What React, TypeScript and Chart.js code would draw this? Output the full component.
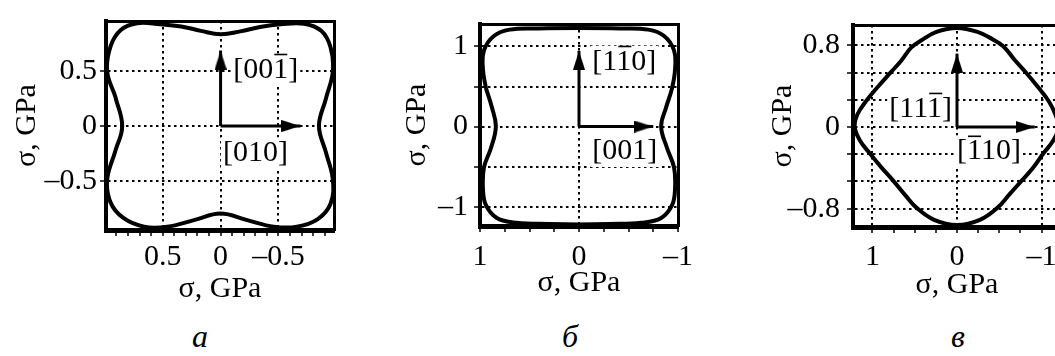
import React, { useEffect, useRef } from "react";
import { Chart, registerables } from "chart.js";

Chart.register(...registerables);

const FONT = "'Liberation Serif', 'Times New Roman', Times, serif";
const AXIS_TITLE = "σ, GPa";

// ---------- Panel а ----------
const A_CURVE_X = [0.91, 0.85, 0.91, 0.98, 0.95, 0.84, 0.66, 0.46, 0.23, 0, -0.23, -0.46, -0.66, -0.84, -0.95, -0.97, -0.91, -0.85, -0.91, -0.97, -0.95, -0.87, -0.72, -0.52, -0.34, -0.17, 0, 0.17, 0.34, 0.52, 0.72, 0.86, 0.95, 0.98, 0.91];
const A_CURVE_Y = [0.27, 0, -0.23, -0.49, -0.7, -0.84, -0.92, -0.92, -0.86, -0.8, -0.86, -0.92, -0.92, -0.85, -0.71, -0.49, -0.24, 0, 0.25, 0.5, 0.72, 0.87, 0.935, 0.93, 0.905, 0.865, 0.84, 0.87, 0.91, 0.93, 0.94, 0.88, 0.73, 0.5, 0.27];
const A_X_RANGE = [-0.98, 0.99];
const A_Y_RANGE = [-0.95, 0.96];
const A_X_TICKS = [0.9, 0.8, 0.7, 0.6, 0.5, 0.4, 0.3, 0.2, 0.1, 0, -0.1, -0.2, -0.3, -0.4, -0.5, -0.6, -0.7, -0.8, -0.9];
const A_X_GRID = [0.5, 0, -0.5];
const A_X_LABELS = [0.5, 0, -0.5];
const A_Y_TICKS = [0.5, 0, -0.5];
const A_Y_GRID = [0.5, 0, -0.5];
const A_Y_LABELS = [0.5, 0, -0.5];
const A_ARROW_X = [-0.69, 0];
const A_ARROW_Y = [0, 0.69];
const A_DIR_TEXT = ["[001]", "[010]"];
const A_DIR_BAR = [3, -1];
const A_DIR_X = [-0.11, -0.02];
const A_DIR_Y = [0.515, -0.25];

// ---------- Panel б ----------
const B_CURVE_X = [0.94, 0.88, 0.84, 0.89, 0.96, 0.97, 0.94, 0.83, 0.63, 0.3, 0, -0.3, -0.63, -0.83, -0.94, -0.97, -0.96, -0.89, -0.83, -0.88, -0.94, -0.97, -0.96, -0.86, -0.7, -0.41, 0, 0.41, 0.7, 0.86, 0.96, 0.97, 0.94];
const B_CURVE_Y = [0.48, 0.24, 0, -0.27, -0.51, -0.78, -0.98, -1.14, -1.2, -1.215, -1.22, -1.215, -1.2, -1.14, -0.98, -0.78, -0.51, -0.27, 0, 0.24, 0.48, 0.71, 0.95, 1.13, 1.21, 1.225, 1.23, 1.225, 1.21, 1.13, 0.95, 0.71, 0.48];
const B_X_RANGE = [-1, 1];
const B_Y_RANGE = [-1.24, 1.28];
const B_X_TICKS = [1, 0.75, 0.5, 0.25, 0, -0.25, -0.5, -0.75, -1];
const B_X_GRID = [0];
const B_X_LABELS = [1, 0, -1];
const B_Y_TICKS = [1, 0.5, 0, -0.5, -1];
const B_Y_GRID = [1, 0.5, 0, -0.5, -1];
const B_Y_LABELS = [1, 0, -1];
const B_ARROW_X = [-0.75, 0];
const B_ARROW_Y = [0, 0.945];
const B_DIR_TEXT = ["[110]", "[001]"];
const B_DIR_BAR = [2, -1];
const B_DIR_X = [-0.135, -0.135];
const B_DIR_Y = [0.81, -0.305];

// ---------- Panel в ----------
const C_CURVE_X = [0.79, 0.93, 1.07, 1.18, 1.21, 1.15, 1.03, 0.89, 0.75, 0.61, 0.48, 0.27, 0, -0.27, -0.48, -0.62, -0.76, -0.9, -1.02, -1.14, -1.2, -1.16, -1.08, -0.95, -0.82, -0.68, -0.55, -0.42, -0.25, 0, 0.25, 0.42, 0.54, 0.66, 0.79];
const C_CURVE_Y = [0.53, 0.4, 0.26, 0.12, 0, -0.13, -0.26, -0.4, -0.53, -0.67, -0.79, -0.91, -0.96, -0.91, -0.79, -0.66, -0.53, -0.4, -0.26, -0.13, 0, 0.13, 0.26, 0.4, 0.53, 0.66, 0.79, 0.86, 0.93, 0.97, 0.93, 0.85, 0.78, 0.65, 0.53];
const C_X_RANGE = [-1.23, 1.23];
const C_Y_RANGE = [-0.98, 1.0];
const C_X_TICKS = [1, 0.75, 0.5, 0.25, 0, -0.25, -0.5, -0.75, -1];
const C_X_GRID = [1, 0, -1];
const C_X_LABELS = [1, 0, -1];
const C_Y_TICKS = [0.8, 0.5333, 0.2667, 0, -0.2667, -0.5333, -0.8];
const C_Y_GRID = [0.8, 0.5333, 0.2667, 0, -0.2667, -0.5333, -0.8];
const C_Y_LABELS = [0.8, 0, -0.8];
const C_ARROW_X = [-0.92, 0];
const C_ARROW_Y = [0, 0.72];
const C_DIR_TEXT = ["[111]", "[110]"];
const C_DIR_BAR = [3, 1];
const C_DIR_X = [0.8, 0.0];
const C_DIR_Y = [0.18, -0.24];

const PANEL_LETTERS = ["а", "б", "в"];

type PanelCfg = {
  curveX: number[]; curveY: number[];
  xRange: number[]; yRange: number[];
  xTicks: number[]; xGrid: number[]; xLabels: number[];
  yTicks: number[]; yGrid: number[]; yLabels: number[];
  arrowX: number[]; arrowY: number[];
  dirText: string[]; dirBar: number[]; dirX: number[]; dirY: number[];
  left: number; width: number; height: number;
  yAxisWidth: number; xAxisHeight: number; padTop: number; padRight: number;
  yTickPad: number; xTickPad: number; xTitlePad: number; yTitlePad: number;
};

const PANELS: PanelCfg[] = [
  {
    curveX: A_CURVE_X, curveY: A_CURVE_Y, xRange: A_X_RANGE, yRange: A_Y_RANGE,
    xTicks: A_X_TICKS, xGrid: A_X_GRID, xLabels: A_X_LABELS,
    yTicks: A_Y_TICKS, yGrid: A_Y_GRID, yLabels: A_Y_LABELS,
    arrowX: A_ARROW_X, arrowY: A_ARROW_Y,
    dirText: A_DIR_TEXT, dirBar: A_DIR_BAR, dirX: A_DIR_X, dirY: A_DIR_Y,
    left: 0, width: 350, height: 310, yAxisWidth: 106, xAxisHeight: 80, padTop: 13, padRight: 16,
    yTickPad: 3, xTickPad: 3, xTitlePad: 3, yTitlePad: 9,
  },
  {
    curveX: B_CURVE_X, curveY: B_CURVE_Y, xRange: B_X_RANGE, yRange: B_Y_RANGE,
    xTicks: B_X_TICKS, xGrid: B_X_GRID, xLabels: B_X_LABELS,
    yTicks: B_Y_TICKS, yGrid: B_Y_GRID, yLabels: B_Y_LABELS,
    arrowX: B_ARROW_X, arrowY: B_ARROW_Y,
    dirText: B_DIR_TEXT, dirBar: B_DIR_BAR, dirX: B_DIR_X, dirY: B_DIR_Y,
    left: 390, width: 310, height: 310, yAxisWidth: 90, xAxisHeight: 84, padTop: 13, padRight: 13,
    yTickPad: 6, xTickPad: 7, xTitlePad: 9, yTitlePad: 9,
  },
  {
    curveX: C_CURVE_X, curveY: C_CURVE_Y, xRange: C_X_RANGE, yRange: C_Y_RANGE,
    xTicks: C_X_TICKS, xGrid: C_X_GRID, xLabels: C_X_LABELS,
    yTicks: C_Y_TICKS, yGrid: C_Y_GRID, yLabels: C_Y_LABELS,
    arrowX: C_ARROW_X, arrowY: C_ARROW_Y,
    dirText: C_DIR_TEXT, dirBar: C_DIR_BAR, dirX: C_DIR_X, dirY: C_DIR_Y,
    left: 756, width: 315, height: 310, yAxisWidth: 97, xAxisHeight: 83, padTop: 11, padRight: 10,
    yTickPad: 7, xTickPad: 6, xTitlePad: 7, yTitlePad: 9,
  },
];

const LETTER_X = [200, 570, 958];
const TEXT_SIZE = 30;

function fmt(v: number): string {
  if (Math.abs(v) < 1e-9) return "0";
  const s = String(Math.round(Math.abs(v) * 100) / 100);
  return v < 0 ? "\u2013" + s : s;
}
const has = (arr: number[], v: number) => arr.some((a) => Math.abs(a - v) < 1e-3);

function makeHead(): HTMLCanvasElement {
  const c = document.createElement("canvas");
  c.width = 12;
  c.height = 38;
  const g = c.getContext("2d")!;
  g.fillStyle = "#000";
  g.beginPath();
  g.moveTo(6, 19);
  g.lineTo(12, 38);
  g.lineTo(0, 38);
  g.closePath();
  g.fill();
  return c;
}

const tickFont = { family: FONT, size: TEXT_SIZE, lineHeight: 1.2 };

function Panel({ p }: { p: PanelCfg }) {
  const ref = useRef<HTMLCanvasElement>(null);
  useEffect(() => {
    const canvas = ref.current!;
    const head = makeHead();
    const curve: any = {
      data: p.curveX.map((x, i) => ({ x, y: p.curveY[i] })),
      showLine: true,
      borderColor: "#000",
      borderWidth: 4,
      pointRadius: 0,
      tension: 0.4,
      fill: false,
    };
    const arrows: any[] = p.arrowX.map((ax, i) => ({
      data: [{ x: 0, y: 0 }, { x: ax, y: p.arrowY[i] }],
      showLine: true,
      borderColor: "#000",
      borderWidth: 3,
      tension: 0,
      pointRadius: (c: any) => (c.dataIndex === 1 ? 3 : 0),
      pointStyle: (c: any) => (c.dataIndex === 1 ? head : "circle"),
      pointRotation: ax !== 0 ? 90 : 0,
      pointBackgroundColor: "#000",
      pointBorderWidth: 0,
    }));
    const labelsPlugin = {
      id: "dirLabels",
      beforeDatasetsDraw(chart: any) {
        const ctx = chart.ctx;
        const xs = chart.scales.x;
        const ys = chart.scales.y;
        ctx.save();
        ctx.font = `${TEXT_SIZE}px ${FONT}`;
        ctx.textBaseline = "middle";
        ctx.textAlign = "left";
        p.dirText.forEach((t, i) => {
          const px = xs.getPixelForValue(p.dirX[i]);
          const py = ys.getPixelForValue(p.dirY[i]);
          const w = ctx.measureText(t).width;
          ctx.fillStyle = "#fff";
          ctx.fillRect(px - 2, py - 16, w + 4, 32);
          ctx.fillStyle = "#000";
          ctx.fillText(t, px, py);
          const b = p.dirBar[i];
          if (b >= 0) {
            const pre = ctx.measureText(t.slice(0, b)).width;
            const cw = ctx.measureText(t[b]).width;
            ctx.fillRect(px + pre + 1, py - 16, cw - 2, 1.6);
          }
        });
        ctx.restore();
      },
    };
    const frame = (pos: string, w: number) => ({
      type: "linear",
      position: pos,
      display: true,
      grid: { display: true, drawOnChartArea: false, drawTicks: false, color: "rgba(0,0,0,0)" },
      ticks: { display: false },
      border: { display: true, color: "#000", width: w },
      afterFit: (s: any) => {
        if (pos === "top" || pos === "bottom") s.height = 0;
        else s.width = 0;
      },
    });
    const chart = new Chart(canvas, {
      type: "scatter",
      data: { datasets: [...arrows, curve] },
      options: {
        responsive: false,
        animation: false,
        events: [],
        layout: { padding: { top: p.padTop, right: p.padRight, left: 0, bottom: 0 } },
        plugins: { legend: { display: false }, tooltip: { enabled: false } },
        scales: {
          x: {
            type: "linear",
            position: "bottom",
            min: p.xRange[0],
            max: p.xRange[1],
            reverse: true,
            afterBuildTicks: (s: any) => {
              s.ticks = p.xTicks.map((v) => ({ value: v }));
            },
            afterFit: (s: any) => {
              s.height = p.xAxisHeight;
            },
            ticks: {
              autoSkip: false,
              maxRotation: 0,
              minRotation: 0,
              padding: p.xTickPad,
              color: "#000",
              font: tickFont,
              callback: (v: any) => (has(p.xLabels, Number(v)) ? fmt(Number(v)) : ""),
            },
            grid: {
              color: (c: any) => (c.tick && has(p.xGrid, c.tick.value) ? "#000" : "rgba(0,0,0,0)"),
              lineWidth: 2,
              tickLength: 6,
              tickColor: "#000",
              tickWidth: 1.5,
            },
            border: { display: true, color: "#000", width: 5, dash: [2.5, 3.5] },
            title: {
              display: true,
              text: AXIS_TITLE,
              color: "#000",
              font: tickFont,
              padding: { top: 0, bottom: p.xTitlePad },
            },
          },
          y: {
            type: "linear",
            position: "left",
            min: p.yRange[0],
            max: p.yRange[1],
            afterBuildTicks: (s: any) => {
              s.ticks = p.yTicks.map((v) => ({ value: v }));
            },
            afterFit: (s: any) => {
              s.width = p.yAxisWidth;
            },
            ticks: {
              autoSkip: false,
              padding: p.yTickPad,
              color: "#000",
              font: tickFont,
              callback: (v: any) => (has(p.yLabels, Number(v)) ? fmt(Number(v)) : ""),
            },
            grid: {
              color: (c: any) => (c.tick && has(p.yGrid, c.tick.value) ? "#000" : "rgba(0,0,0,0)"),
              lineWidth: 2,
              tickLength: 6,
              tickColor: "#000",
              tickWidth: 1.5,
            },
            border: { display: true, color: "#000", width: 4, dash: [2.5, 3.5] },
            title: {
              display: true,
              text: AXIS_TITLE,
              color: "#000",
              font: tickFont,
              padding: { top: p.yTitlePad, bottom: 0 },
            },
          },
          x2: frame("top", 3) as any,
          y2: frame("right", 3) as any,
        },
      } as any,
      plugins: [labelsPlugin],
    });
    return () => chart.destroy();
  }, [p]);
  return (
    <canvas
      ref={ref}
      width={p.width}
      height={p.height}
      style={{ position: "absolute", left: p.left, top: 0, width: p.width, height: p.height }}
    />
  );
}

export default function App() {
  return (
    <div
      style={{
        position: "fixed",
        left: 0,
        top: 0,
        width: 1055,
        height: 356,
        overflow: "hidden",
        background: "#fff",
      }}
    >
      {PANELS.map((p, i) => (
        <Panel key={i} p={p} />
      ))}
      {PANEL_LETTERS.map((l, i) => (
        <div
          key={l}
          style={{
            position: "absolute",
            left: LETTER_X[i] - 30,
            width: 60,
            top: 320,
            textAlign: "center",
            fontFamily: FONT,
            fontStyle: "italic",
            fontSize: 32,
            lineHeight: "32px",
            color: "#000",
          }}
        >
          {l}
        </div>
      ))}
    </div>
  );
}
